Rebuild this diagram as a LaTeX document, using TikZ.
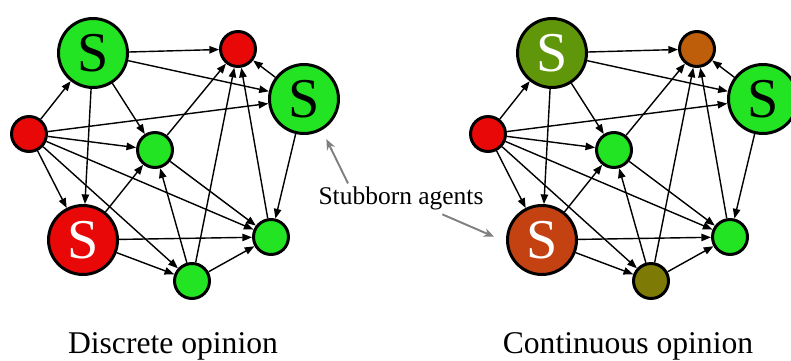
\documentclass[tikz,border=0pt]{standalone}
\usepackage{fontspec}
\setmainfont{Liberation Serif}
\usetikzlibrary{arrows.meta}
\definecolor{agentgreen}{RGB}{35,228,35}
\definecolor{agentred}{RGB}{232,8,8}
\definecolor{olivegreen}{RGB}{96,150,10}
\definecolor{rustred}{RGB}{196,66,18}
\definecolor{ambrown}{RGB}{190,94,10}
\definecolor{darkolive}{RGB}{126,122,6}

\begin{document}
\begin{tikzpicture}[x=0.02cm, y=-0.02cm,
  agent/.style={circle, draw=black, line width=1.7pt, minimum size=0.7cm, inner sep=0pt},
  stub/.style={agent, minimum size=1.38cm, font=\fontsize{32}{32}\selectfont},
  link/.style={-{Triangle[length=5.5pt,width=4.2pt]}, line width=0.8pt},
  pointer/.style={-{Stealth[length=6pt,width=5pt]}, line width=1.1pt, gray},
  caption/.style={anchor=base, font=\fontsize{18}{20}\selectfont}]
\useasboundingbox (0,0) rectangle (791,361);
% discrete opinion
\node[stub, fill=agentgreen] (ds1) at (93,53) {S};
\node[agent, fill=agentred] (dtop) at (238,49) {};
\node[stub, fill=agentgreen] (ds2) at (304,99) {S};
\node[agent, fill=agentred] (dleft) at (29,134) {};
\node[agent, fill=agentgreen] (dmid) at (155,150) {};
\node[stub, fill=agentred, text=white] (ds3) at (83,240) {S};
\node[agent, fill=agentgreen] (dbot) at (192,281) {};
\node[agent, fill=agentgreen] (dright) at (271,237) {};
% continuous opinion
\node[stub, fill=olivegreen, text=white] (cs1) at (552,53) {S};
\node[agent, fill=ambrown] (ctop) at (697,49) {};
\node[stub, fill=agentgreen] (cs2) at (763,99) {S};
\node[agent, fill=agentred] (cleft) at (488,134) {};
\node[agent, fill=agentgreen] (cmid) at (614,150) {};
\node[stub, fill=rustred, text=white] (cs3) at (542,240) {S};
\node[agent, fill=darkolive] (cbot) at (651,281) {};
\node[agent, fill=agentgreen] (cright) at (730,237) {};
% same links in both networks
\foreach \a/\b in {s1/top, s1/s2, s1/mid, s1/s3, left/s1, left/s2, left/mid, left/s3,
  left/bot, left/right, s2/top, s2/right, mid/top, mid/right, s3/mid, s3/right,
  s3/bot, bot/mid, bot/top, bot/right, right/top}
  {\draw[link] (d\a) -- (d\b);
   \draw[link] (c\a) -- (c\b);}
% labels
\node[anchor=base, inner sep=2pt, font=\fontsize{14.5}{16}\selectfont] (stubborn) at (401,205) {Stubborn agents};
\draw[pointer, shorten >=0.2cm] ([xshift=-1.06cm]stubborn.north) -- (ds2.-60);
\draw[pointer, shorten >=0.26cm] ([xshift=-0.9cm]stubborn.south east) -- (cs3.183);
\node[caption] (dcap) at (173,353) {Discrete opinion};
\node[caption] (ccap) at (628,353) {Continuous opinion};
\end{tikzpicture}
\end{document}
